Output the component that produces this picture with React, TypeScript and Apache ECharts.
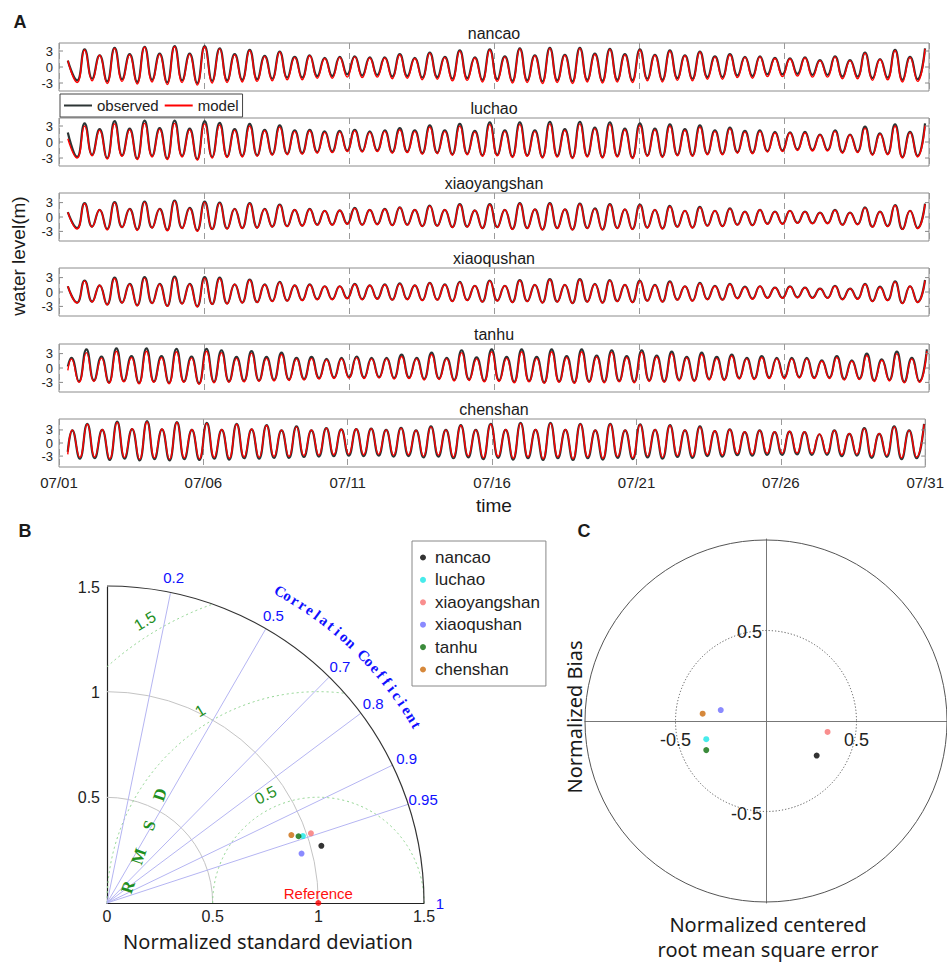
import React, { useEffect, useRef } from "react";
import * as echarts from "echarts";

// ---------------- Panel A data ----------------
const STATIONS = ["nancao", "luchao", "xiaoyangshan", "xiaoqushan", "tanhu", "chenshan"];
const DATE_LABELS = ["07/01", "07/06", "07/11", "07/16", "07/21", "07/26", "07/31"];
const Y_TICKS = [-3, 0, 3];
const Y_LIMITS = [4.5, 4.5, 5, 5, 5, 5.5];
const FIRST_HIGH_HOUR = [21.2, 21.2, 21.2, 21.2, 22.7, 23.5];
const RECORD_START_HOUR = 7.3;
const RECORD_END_HOUR = 720;
const TIDAL_HALF_PERIOD_H = 6.21;
const START_OBS = [1.2, 1.8, 1.0, 1.2, 0.3, -2.0];
const START_MOD = [1.2, 0.6, 1.0, 1.2, -0.5, -2.6];
const PRE_HIGH_OBS = [null, null, null, null, 2.1, 2.9];
const PRE_HIGH_MOD = [null, null, null, null, 1.9, 3.0];

const NANCAO_OBS_HIGH = [3.3,2.2,3.6,2.4,3.8,2.5,3.9,2.5,3.9,3.5,2.4,3.2,2.1,2.9,1.9,2.2,1.7,1.9,2.0,1.8,1.8,2.4,1.7,2.7,1.9,3.1,1.8,3.3,2.0,3.5,2.2,3.6,2.3,3.6,2.5,3.4,2.4,3.3,2.3,3.1,2.2,2.9,2.0,2.4,1.9,2.0,1.7,1.6,1.8,1.3,2.0,1.3,2.7,1.5,3.2,1.9,3.5];
const NANCAO_OBS_LOW = [-2.5,-2.2,-2.7,-2.3,-2.8,-2.4,-2.9,-2.5,-3.0,-2.6,-2.5,-2.4,-2.3,-2.2,-2.0,-2.0,-1.7,-1.7,-1.4,-1.6,-1.5,-1.8,-1.7,-2.0,-1.9,-2.2,-2.1,-2.4,-2.3,-2.6,-2.5,-2.7,-2.5,-2.7,-2.4,-2.6,-2.4,-2.5,-2.2,-2.4,-2.1,-2.2,-1.9,-1.9,-1.6,-1.7,-1.4,-1.4,-1.3,-1.5,-1.5,-1.8,-1.8,-2.1,-2.0,-2.4,-2.3];
const NANCAO_MOD_HIGH = [3.2,2.2,3.5,2.3,3.7,2.4,3.8,2.4,3.8,3.4,2.3,3.1,2.0,2.8,1.8,2.1,1.6,1.8,1.9,1.7,1.7,2.3,1.6,2.6,1.8,3.0,1.7,3.2,1.9,3.4,2.1,3.5,2.2,3.5,2.4,3.3,2.3,3.2,2.2,3.0,2.1,2.8,1.9,2.3,1.8,1.9,1.6,1.5,1.7,1.2,1.9,1.2,2.6,1.4,3.1,1.8,3.4];
const NANCAO_MOD_LOW = [-2.9,-2.6,-3.1,-2.7,-3.2,-2.8,-3.3,-2.9,-3.4,-3.0,-2.9,-2.8,-2.7,-2.6,-2.4,-2.4,-2.1,-2.1,-1.9,-2.0,-1.9,-2.2,-2.1,-2.4,-2.3,-2.6,-2.5,-2.8,-2.7,-3.0,-2.9,-3.1,-2.9,-3.1,-2.8,-3.0,-2.8,-2.9,-2.6,-2.8,-2.5,-2.6,-2.3,-2.3,-2.0,-2.1,-1.8,-1.8,-1.7,-1.9,-1.9,-2.2,-2.2,-2.5,-2.4,-2.8,-2.7];

const LUCHAO_OBS_HIGH = [3.5,2.4,3.9,2.5,4.0,2.6,4.0,2.5,3.9,3.6,2.4,3.4,2.3,3.1,2.2,2.3,2.0,2.1,2.3,2.0,2.2,2.6,2.2,3.1,2.2,3.4,2.1,3.7,2.2,3.7,2.2,3.8,2.4,3.8,2.7,3.7,2.5,3.5,2.5,3.3,2.4,3.1,2.2,2.7,2.1,2.2,1.9,1.8,1.9,1.4,2.2,1.4,2.9,1.6,3.3,1.9,3.5];
const LUCHAO_OBS_LOW = [-2.8,-2.4,-3.0,-2.5,-3.1,-2.6,-3.1,-2.6,-3.2,-2.8,-2.7,-2.6,-2.5,-2.3,-2.2,-2.1,-1.9,-1.8,-1.6,-1.7,-1.6,-1.9,-1.8,-2.1,-2.0,-2.3,-2.2,-2.5,-2.4,-2.7,-2.5,-2.8,-2.6,-2.9,-2.6,-2.8,-2.6,-2.9,-2.5,-2.7,-2.4,-2.5,-2.2,-2.2,-1.9,-2.0,-1.7,-1.6,-1.4,-1.5,-1.5,-1.9,-1.8,-2.3,-2.2,-2.8,-2.6];
const LUCHAO_MOD_HIGH = [3.0,2.2,3.4,2.3,3.5,2.4,3.5,2.3,3.4,3.2,2.2,3.0,2.1,2.8,2.0,2.1,1.8,1.9,2.1,1.8,2.0,2.3,2.0,2.8,2.0,3.0,1.9,3.3,2.0,3.3,2.0,3.4,2.2,3.4,2.5,3.3,2.3,3.1,2.3,3.0,2.2,2.8,2.0,2.5,1.9,2.0,1.7,1.7,1.7,1.3,2.0,1.3,2.6,1.5,3.0,1.8,3.1];
const LUCHAO_MOD_LOW = [-3.0,-2.6,-3.2,-2.7,-3.3,-2.8,-3.3,-2.8,-3.4,-3.0,-2.9,-2.8,-2.7,-2.5,-2.4,-2.3,-2.1,-2.0,-1.8,-1.9,-1.8,-2.1,-2.0,-2.3,-2.2,-2.5,-2.4,-2.7,-2.6,-2.9,-2.7,-3.0,-2.8,-3.1,-2.8,-3.0,-2.8,-3.1,-2.7,-2.9,-2.6,-2.7,-2.4,-2.4,-2.1,-2.2,-1.9,-1.8,-1.6,-1.7,-1.7,-2.1,-2.0,-2.5,-2.4,-3.0,-2.8];

const XIAOYANGSHAN_OBS_HIGH = [2.9,1.5,3.1,1.7,3.2,1.7,3.4,1.9,3.2,3.0,1.7,2.9,1.7,2.6,1.5,1.7,1.3,1.4,1.9,1.5,1.7,2.0,1.5,2.4,1.5,2.7,1.4,2.7,1.5,2.9,1.6,2.9,1.6,2.8,1.8,2.7,1.6,2.6,1.5,2.3,1.3,2.1,1.3,1.8,1.1,1.5,1.1,1.3,1.1,0.9,1.5,0.9,2.0,1.1,2.5,1.3,2.8];
const XIAOYANGSHAN_OBS_LOW = [-2.3,-2.0,-2.5,-2.1,-2.6,-2.2,-2.7,-2.3,-2.8,-2.5,-2.4,-2.3,-2.2,-2.0,-1.9,-1.8,-1.6,-1.6,-1.4,-1.6,-1.5,-1.7,-1.6,-1.9,-1.8,-2.1,-2.0,-2.3,-2.1,-2.5,-2.3,-2.6,-2.3,-2.6,-2.3,-2.6,-2.3,-2.5,-2.2,-2.4,-2.0,-2.2,-1.8,-1.9,-1.6,-1.7,-1.4,-1.4,-1.2,-1.3,-1.3,-1.6,-1.5,-2.0,-1.9,-2.5,-2.3];
const XIAOYANGSHAN_MOD_HIGH = [2.8,1.5,3.0,1.7,3.1,1.7,3.3,1.8,3.1,2.9,1.7,2.8,1.6,2.5,1.5,1.6,1.3,1.4,1.8,1.5,1.6,2.0,1.5,2.3,1.5,2.6,1.4,2.6,1.5,2.8,1.6,2.8,1.6,2.7,1.7,2.6,1.6,2.5,1.5,2.2,1.3,2.0,1.3,1.7,1.1,1.5,1.1,1.3,1.1,0.9,1.4,0.9,1.9,1.1,2.4,1.3,2.7];
const XIAOYANGSHAN_MOD_LOW = [-2.5,-2.1,-2.7,-2.2,-2.8,-2.3,-2.9,-2.4,-3.0,-2.6,-2.5,-2.4,-2.3,-2.1,-2.0,-1.9,-1.7,-1.7,-1.5,-1.7,-1.6,-1.8,-1.7,-2.0,-1.9,-2.2,-2.1,-2.4,-2.2,-2.6,-2.4,-2.7,-2.4,-2.7,-2.4,-2.7,-2.4,-2.6,-2.3,-2.5,-2.1,-2.3,-1.9,-2.0,-1.7,-1.8,-1.5,-1.5,-1.3,-1.4,-1.4,-1.7,-1.6,-2.1,-2.0,-2.6,-2.4];

const XIAOQUSHAN_OBS_HIGH = [2.4,1.4,3.0,1.7,3.1,1.7,3.2,1.7,3.1,3.0,1.6,2.6,1.6,2.1,1.4,1.6,1.2,1.2,1.7,1.4,1.6,1.8,1.4,1.9,1.6,2.1,1.3,2.4,1.3,2.5,1.5,2.7,1.5,2.7,1.7,2.5,1.5,2.4,1.5,2.2,1.2,1.9,1.3,1.7,1.1,1.2,0.9,1.2,0.9,0.7,1.3,0.7,1.7,1.1,2.2,1.2,2.5];
const XIAOQUSHAN_OBS_LOW = [-2.2,-2.0,-2.6,-2.2,-2.8,-2.3,-2.9,-2.4,-3.0,-2.5,-2.4,-2.2,-2.1,-1.9,-1.8,-1.7,-1.5,-1.5,-1.3,-1.5,-1.4,-1.6,-1.5,-1.7,-1.6,-1.9,-1.7,-2.0,-1.8,-2.1,-1.9,-2.2,-2.0,-2.3,-2.0,-2.2,-1.9,-2.1,-1.8,-2.0,-1.6,-1.8,-1.5,-1.6,-1.3,-1.4,-1.2,-1.2,-1.1,-1.2,-1.2,-1.5,-1.4,-1.9,-1.7,-2.3,-2.1];
const XIAOQUSHAN_MOD_HIGH = [2.3,1.4,2.8,1.6,2.9,1.6,3.0,1.6,2.9,2.8,1.6,2.5,1.5,2.0,1.4,1.5,1.2,1.2,1.6,1.4,1.5,1.7,1.4,1.9,1.5,2.0,1.3,2.3,1.3,2.4,1.5,2.6,1.5,2.6,1.6,2.4,1.5,2.3,1.4,2.1,1.2,1.8,1.2,1.6,1.0,1.2,0.9,1.1,0.9,0.7,1.2,0.7,1.6,1.0,2.1,1.2,2.4];
const XIAOQUSHAN_MOD_LOW = [-2.3,-2.1,-2.7,-2.3,-2.9,-2.4,-3.0,-2.5,-3.1,-2.6,-2.5,-2.3,-2.2,-2.0,-1.9,-1.8,-1.6,-1.6,-1.4,-1.6,-1.5,-1.7,-1.6,-1.8,-1.7,-2.0,-1.8,-2.1,-1.9,-2.2,-2.0,-2.3,-2.1,-2.4,-2.1,-2.3,-2.0,-2.2,-1.9,-2.1,-1.7,-1.9,-1.6,-1.7,-1.4,-1.5,-1.3,-1.3,-1.2,-1.3,-1.3,-1.6,-1.5,-2.0,-1.8,-2.4,-2.2];

const TANHU_OBS_HIGH = [3.9,2.4,4.1,2.5,4.1,2.5,4.0,2.4,4.0,3.7,2.3,3.5,2.3,3.2,2.1,2.3,1.9,2.1,2.4,2.1,2.1,2.8,2.1,3.2,2.1,3.7,2.2,3.9,2.3,3.9,2.3,3.9,2.5,3.9,2.6,3.7,2.5,3.7,2.6,3.4,2.3,3.2,2.3,2.8,2.1,2.5,2.1,2.1,2.1,1.6,2.5,1.6,3.0,1.8,3.4,2.1,3.9];
const TANHU_OBS_LOW = [-2.8,-2.6,-3.0,-2.7,-3.1,-2.8,-3.1,-2.8,-3.2,-2.9,-2.8,-2.7,-2.6,-2.5,-2.4,-2.3,-2.1,-2.0,-1.9,-2.0,-1.9,-2.1,-2.0,-2.3,-2.2,-2.5,-2.4,-2.7,-2.6,-2.9,-2.7,-3.0,-2.8,-3.0,-2.8,-2.9,-2.7,-2.9,-2.6,-2.8,-2.5,-2.6,-2.3,-2.4,-2.1,-2.2,-2.0,-2.0,-1.9,-2.0,-2.0,-2.3,-2.2,-2.6,-2.5,-2.9,-2.8];
const TANHU_MOD_HIGH = [3.2,2.1,3.5,2.2,3.5,2.2,3.4,2.1,3.5,3.2,2.0,3.1,2.0,2.8,1.9,2.0,1.7,1.9,2.1,1.9,1.9,2.4,1.9,2.8,1.9,3.2,1.9,3.4,2.0,3.4,2.0,3.4,2.2,3.4,2.3,3.3,2.2,3.3,2.3,3.0,2.1,2.8,2.0,2.5,1.9,2.2,1.9,1.9,1.9,1.4,2.2,1.4,2.6,1.6,3.0,1.9,3.5];
const TANHU_MOD_LOW = [-3.0,-2.8,-3.2,-2.9,-3.3,-3.0,-3.3,-3.0,-3.4,-3.1,-3.0,-2.9,-2.8,-2.7,-2.6,-2.5,-2.3,-2.2,-2.1,-2.2,-2.1,-2.3,-2.2,-2.5,-2.4,-2.7,-2.6,-2.9,-2.8,-3.1,-2.9,-3.2,-3.0,-3.2,-3.0,-3.1,-2.9,-3.1,-2.8,-3.0,-2.7,-2.8,-2.5,-2.6,-2.3,-2.4,-2.2,-2.2,-2.1,-2.2,-2.2,-2.5,-2.4,-2.8,-2.7,-3.1,-3.0];

const CHENSHAN_OBS_HIGH = [4.4,3.0,4.9,3.2,5.0,3.1,4.8,3.0,4.6,3.0,4.4,3.1,4.1,2.9,3.8,2.9,3.4,3.1,3.2,3.3,3.0,3.5,2.9,3.8,3.0,4.1,3.0,4.4,3.0,4.6,3.0,4.6,3.0,4.4,2.9,4.4,2.9,4.3,3.0,4.1,2.9,3.8,2.7,3.1,2.5,2.9,2.5,2.6,2.5,2.0,2.9,2.1,3.4,2.1,3.8,2.9,4.4];
const CHENSHAN_OBS_LOW = [-3.6,-3.5,-3.9,-3.6,-4.0,-3.7,-4.0,-3.7,-3.9,-3.6,-3.8,-3.5,-3.6,-3.4,-3.4,-3.2,-3.1,-3.0,-2.9,-3.0,-2.9,-3.1,-3.0,-3.3,-3.1,-3.5,-3.3,-3.7,-3.4,-3.8,-3.5,-3.9,-3.5,-3.9,-3.5,-3.8,-3.4,-3.7,-3.3,-3.6,-3.2,-3.4,-3.0,-3.1,-2.8,-2.9,-2.7,-2.7,-2.6,-2.7,-2.7,-3.0,-2.9,-3.4,-3.2,-3.7,-3.5];
const CHENSHAN_MOD_HIGH = [4.3,3.1,4.7,3.3,4.8,3.2,4.7,3.1,4.5,3.1,4.3,3.2,4.0,3.0,3.7,3.0,3.4,3.1,3.2,3.3,3.0,3.4,2.9,3.7,3.0,4.0,3.0,4.3,3.1,4.5,3.1,4.5,3.1,4.3,3.0,4.3,3.0,4.2,3.1,4.0,3.0,3.7,2.8,3.1,2.6,2.9,2.6,2.7,2.6,2.1,2.9,2.2,3.3,2.2,3.7,2.9,4.3];
const CHENSHAN_MOD_LOW = [-3.3,-3.2,-3.6,-3.3,-3.7,-3.4,-3.7,-3.4,-3.6,-3.3,-3.5,-3.2,-3.3,-3.1,-3.1,-2.9,-2.8,-2.7,-2.6,-2.7,-2.6,-2.8,-2.7,-3.0,-2.8,-3.2,-3.0,-3.4,-3.1,-3.5,-3.2,-3.6,-3.2,-3.6,-3.2,-3.5,-3.1,-3.4,-3.0,-3.3,-2.9,-3.1,-2.7,-2.8,-2.5,-2.6,-2.4,-2.4,-2.3,-2.4,-2.4,-2.7,-2.6,-3.1,-2.9,-3.4,-3.2];

const OBS_HIGH = [NANCAO_OBS_HIGH, LUCHAO_OBS_HIGH, XIAOYANGSHAN_OBS_HIGH, XIAOQUSHAN_OBS_HIGH, TANHU_OBS_HIGH, CHENSHAN_OBS_HIGH];
const OBS_LOW = [NANCAO_OBS_LOW, LUCHAO_OBS_LOW, XIAOYANGSHAN_OBS_LOW, XIAOQUSHAN_OBS_LOW, TANHU_OBS_LOW, CHENSHAN_OBS_LOW];
const MOD_HIGH = [NANCAO_MOD_HIGH, LUCHAO_MOD_HIGH, XIAOYANGSHAN_MOD_HIGH, XIAOQUSHAN_MOD_HIGH, TANHU_MOD_HIGH, CHENSHAN_MOD_HIGH];
const MOD_LOW = [NANCAO_MOD_LOW, LUCHAO_MOD_LOW, XIAOYANGSHAN_MOD_LOW, XIAOQUSHAN_MOD_LOW, TANHU_MOD_LOW, CHENSHAN_MOD_LOW];

// ---------------- Panel B / C data ----------------
const STATION_COLORS = ["#000000", "#19e6e6", "#f77272", "#6d6dff", "#0a6e0a", "#cc6a0a"];
const NORM_STD = [1.05, 0.98, 1.02, 0.95, 0.96, 0.93];
const CORRELATION = [0.966, 0.946, 0.946, 0.969, 0.944, 0.938];
const REFERENCE_STD = 1;
const CORR_RAYS = [0.2, 0.5, 0.7, 0.8, 0.9, 0.95];
const CORR_LABELS = [0.2, 0.5, 0.7, 0.8, 0.9, 0.95, 1];
const STD_ARCS = [0.5, 1.0];
const RMSD_ARCS = [0.5, 1.0, 1.5];
const MAX_STD = 1.5;
const CRMSE_SIGNED = [0.28, -0.33, 0.34, -0.25, -0.33, -0.35];
const NORM_BIAS = [-0.19, -0.10, -0.06, 0.06, -0.16, 0.04];
const TARGET_TICKS = [-0.5, 0.5];

const SANS = '"Liberation Sans", Arial, sans-serif';
const NOTO = '"Noto Sans", "Liberation Sans", sans-serif';
const SERIF = '"Liberation Serif", "DejaVu Serif", serif';

const GRID_TOPS = [43, 118, 193, 268, 344, 419];
const GRID_LEFT = 59;
const GRID_W = 870;
const GRID_H = 48;

function buildTide(i: number, highs: number[], lows: number[], start: number, pre: number | null) {
  const t0 = FIRST_HIGH_HOUR[i];
  const pts: number[][] = [[RECORD_START_HOUR, start]];
  if (pre !== null && pre !== undefined) pts.push([t0 - 2 * TIDAL_HALF_PERIOD_H, pre]);
  const n = Math.min(highs.length, lows.length);
  for (let k = 0; k < n; k++) {
    pts.push([t0 + (2 * k - 1) * TIDAL_HALF_PERIOD_H, lows[k]]);
    pts.push([t0 + 2 * k * TIDAL_HALF_PERIOD_H, highs[k]]);
  }
  return pts;
}

function tideAxisLabels(params: any, api: any) {
  if (params.dataIndex !== 0) return null;
  const ch: any[] = [];
  Y_TICKS.forEach((v) => {
    const l = api.coord([0, v]);
    const r = api.coord([RECORD_END_HOUR, v]);
    ch.push({ type: "text", x: l[0] - 6, y: l[1], style: { text: String(v), fill: "#222", font: "13px " + SANS, lineHeight: 12, align: "right", verticalAlign: "middle" } });
    ch.push({ type: "line", shape: { x1: l[0], y1: l[1], x2: l[0] + 4, y2: l[1] }, style: { stroke: "#888", lineWidth: 1 } });
    ch.push({ type: "line", shape: { x1: r[0] - 4, y1: r[1], x2: r[0], y2: r[1] }, style: { stroke: "#888", lineWidth: 1 } });
  });
  return { type: "group", children: ch };
}

function taylorGuides(params: any, api: any) {
  if (params.dataIndex !== 0) return null;
  const o = api.coord([0, 0]);
  const u = api.size([1, 1])[0];
  const P = (x: number, y: number) => api.coord([x, y]);
  const ch: any[] = [];
  STD_ARCS.forEach((r) => {
    ch.push({ type: "arc", shape: { cx: o[0], cy: o[1], r: r * u, startAngle: -Math.PI / 2, endAngle: 0, clockwise: true }, style: { stroke: "#c4c4c4", fill: null, lineWidth: 1 } });
  });
  const c1 = P(REFERENCE_STD, 0);
  RMSD_ARCS.forEach((rho) => {
    const cs = (MAX_STD * MAX_STD - REFERENCE_STD * REFERENCE_STD - rho * rho) / (2 * rho * REFERENCE_STD);
    const th1 = cs >= 1 ? 0 : Math.acos(Math.max(-1, cs));
    const ce = -REFERENCE_STD / rho;
    const th2 = ce <= -1 ? Math.PI : Math.acos(ce);
    ch.push({ type: "arc", shape: { cx: c1[0], cy: c1[1], r: rho * u, startAngle: -th2, endAngle: -th1, clockwise: true }, style: { stroke: "#8ed48e", fill: null, lineWidth: 1, lineDash: [2, 3] } });
  });
  CORR_RAYS.forEach((R) => {
    const p = P(MAX_STD * R, MAX_STD * Math.sqrt(1 - R * R));
    ch.push({ type: "line", shape: { x1: o[0], y1: o[1], x2: p[0], y2: p[1] }, style: { stroke: "#b5b5f2", lineWidth: 1 } });
  });
  ch.push({ type: "arc", shape: { cx: o[0], cy: o[1], r: MAX_STD * u, startAngle: -Math.PI / 2, endAngle: 0, clockwise: true }, style: { stroke: "#333", fill: null, lineWidth: 1.2 } });
  CORR_LABELS.forEach((R) => {
    const rr = MAX_STD * 1.05;
    const p = P(rr * R, rr * Math.sqrt(1 - R * R));
    ch.push({ type: "text", x: p[0], y: p[1], style: { text: String(R), fill: "#1010ff", font: "15px " + SANS, align: "center", verticalAlign: "middle" } });
  });
  const title = "Correlation Coefficient";
  const a0 = 61, a1 = 30;
  for (let j = 0; j < title.length; j++) {
    const phi = ((a0 - (j * (a0 - a1)) / (title.length - 1)) * Math.PI) / 180;
    const rr = 1.69;
    const p = P(rr * Math.cos(phi), rr * Math.sin(phi));
    ch.push({ type: "text", x: p[0], y: p[1], rotation: phi - Math.PI / 2, style: { text: title[j], fill: "#1010ff", font: "bold 15px " + SERIF, align: "center", verticalAlign: "middle" } });
  }
  const rmsdLabelAngles = [116, 121.5, 121.5];
  RMSD_ARCS.forEach((rho, j) => {
    const th = (rmsdLabelAngles[j] * Math.PI) / 180;
    const p = P(REFERENCE_STD + (rho + 0.07) * Math.cos(th), (rho + 0.07) * Math.sin(th));
    ch.push({ type: "text", x: p[0], y: p[1], rotation: th - Math.PI / 2, style: { text: String(rho), fill: "#1f8f1f", font: "16px " + SANS, align: "center", verticalAlign: "middle" } });
  });
  const rmsd = "RMSD";
  const dir = (71 * Math.PI) / 180;
  for (let j = 0; j < rmsd.length; j++) {
    const d = j * 0.155;
    const p = P(0.1 + d * Math.cos(dir), 0.075 + d * Math.sin(dir));
    ch.push({ type: "text", x: p[0], y: p[1], rotation: dir, style: { text: rmsd[j], fill: "#1f8f1f", font: "bold 17px " + SERIF, align: "center", verticalAlign: "middle" } });
  }
  ch.push({ type: "text", x: c1[0], y: c1[1] - 10, style: { text: "Reference", fill: "#ff1010", font: "15px " + SANS, align: "center", verticalAlign: "middle" } });
  return { type: "group", children: ch };
}

function targetGuides(params: any, api: any) {
  if (params.dataIndex !== 0) return null;
  const o = api.coord([0, 0]);
  const u = api.size([1, 1])[0];
  const ch: any[] = [
    { type: "circle", shape: { cx: o[0], cy: o[1], r: u }, style: { stroke: "#555", fill: null, lineWidth: 1 } },
    { type: "circle", shape: { cx: o[0], cy: o[1], r: u * 0.5 }, style: { stroke: "#555", fill: null, lineWidth: 1, lineDash: [1.2, 2] } },
  ];
  TARGET_TICKS.forEach((v) => {
    const px = api.coord([v, 0]);
    ch.push({ type: "text", x: px[0], y: px[1] + 19, style: { text: String(v), fill: "#222", font: "18px " + SANS, align: "center", verticalAlign: "middle" } });
    const py = api.coord([0, v]);
    ch.push({ type: "text", x: py[0] - 4, y: py[1] + 2, style: { text: String(v), fill: "#222", font: "18px " + SANS, align: "right", verticalAlign: "middle" } });
  });
  return { type: "group", children: ch };
}

export default function App() {
  const ref = useRef<HTMLDivElement>(null);
  useEffect(() => {
    if (!ref.current) return;
    const chart = echarts.init(ref.current, null, { renderer: "svg" });

    const grid: any[] = GRID_TOPS.map((t) => ({ left: GRID_LEFT, top: t, width: GRID_W, height: GRID_H, show: true, borderColor: "#8c8c8c", borderWidth: 1, backgroundColor: "transparent" }));
    grid.push({ left: 107, top: 587, width: 317, height: 316 });
    grid.push({ left: 585, top: 539, width: 364, height: 364 });

    const xAxis: any[] = STATIONS.map((_, i) => ({
      type: "value", gridIndex: i, min: 0, max: RECORD_END_HOUR, interval: 120,
      axisLine: { show: false }, axisTick: { show: false },
      splitLine: { show: true, lineStyle: { type: [6, 4], color: "#9a9a9a", width: 1 } },
      axisLabel: { show: i === STATIONS.length - 1, formatter: (v: number) => DATE_LABELS[Math.round(v / 120)], fontSize: 15, fontFamily: SANS, color: "#222", margin: 8, showMinLabel: true, showMaxLabel: true },
    }));
    xAxis.push({
      type: "value", gridIndex: 6, min: 0, max: MAX_STD, interval: 0.5,
      axisLine: { show: true, lineStyle: { color: "#222", width: 1.2 } }, axisTick: { show: false }, splitLine: { show: false },
      axisLabel: { fontSize: 16, fontFamily: SANS, color: "#222", margin: 5, formatter: (v: number) => String(v) },
    });
    xAxis.push({
      type: "value", gridIndex: 7, min: -1, max: 1,
      axisLine: { show: true, onZero: true, lineStyle: { color: "#777", width: 1 } }, axisTick: { show: false }, splitLine: { show: false },
      axisLabel: { show: false },
    });

    const yAxis: any[] = STATIONS.map((_, i) => ({
      type: "value", gridIndex: i, min: -Y_LIMITS[i], max: Y_LIMITS[i],
      axisLine: { show: false }, splitLine: { show: false }, axisTick: { show: false }, axisLabel: { show: false },
    }));
    yAxis.push({
      type: "value", gridIndex: 6, min: 0, max: MAX_STD, interval: 0.5,
      axisLine: { show: true, lineStyle: { color: "#222", width: 1.2 } }, axisTick: { show: false }, splitLine: { show: false },
      axisLabel: { fontSize: 16, fontFamily: SANS, color: "#222", margin: 7, formatter: (v: number) => (v === 0 ? "" : String(v)) },
    });
    yAxis.push({
      type: "value", gridIndex: 7, min: -1, max: 1,
      axisLine: { show: true, onZero: true, lineStyle: { color: "#777", width: 1 } }, axisTick: { show: false }, splitLine: { show: false },
      axisLabel: { show: false },
    });

    const series: any[] = [];
    STATIONS.forEach((_, i) => {
      series.push({
        type: "line", name: "observed", xAxisIndex: i, yAxisIndex: i, symbol: "none", smooth: 0.5,
        data: buildTide(i, OBS_HIGH[i], OBS_LOW[i], START_OBS[i], PRE_HIGH_OBS[i]),
        lineStyle: { color: "#2d3535", width: 2.2 }, itemStyle: { color: "#2d3535" }, z: 2,
      });
      series.push({
        type: "line", name: "model", xAxisIndex: i, yAxisIndex: i, symbol: "none", smooth: 0.5,
        data: buildTide(i, MOD_HIGH[i], MOD_LOW[i], START_MOD[i], PRE_HIGH_MOD[i]),
        lineStyle: { color: "#ff0000", width: 1.4 }, itemStyle: { color: "#ff0000" }, z: 3,
      });
      series.push({ type: "custom", xAxisIndex: i, yAxisIndex: i, renderItem: tideAxisLabels, data: [[0, 0]], clip: false, silent: true, z: 4 });
    });
    series.push({ type: "custom", xAxisIndex: 6, yAxisIndex: 6, renderItem: taylorGuides, data: [[0, 0]], clip: false, silent: true, z: 1 });
    series.push({ type: "custom", xAxisIndex: 7, yAxisIndex: 7, renderItem: targetGuides, data: [[0, 0]], clip: false, silent: true, z: 1 });
    series.push({ type: "scatter", name: "Reference", xAxisIndex: 6, yAxisIndex: 6, data: [[REFERENCE_STD, 0]], symbolSize: 6, itemStyle: { color: "#ff0000" }, clip: false, z: 6 });
    STATIONS.forEach((name, i) => {
      series.push({
        type: "scatter", name, xAxisIndex: 6, yAxisIndex: 6, symbolSize: 6, z: 6,
        data: [[NORM_STD[i] * CORRELATION[i], NORM_STD[i] * Math.sqrt(1 - CORRELATION[i] * CORRELATION[i])]],
        itemStyle: { color: STATION_COLORS[i] },
      });
      series.push({
        type: "scatter", name, xAxisIndex: 7, yAxisIndex: 7, symbolSize: 6, z: 6,
        data: [[CRMSE_SIGNED[i], NORM_BIAS[i]]], itemStyle: { color: STATION_COLORS[i] },
      });
    });

    const graphic: any[] = [];
    const txt = (x: number, y: number, text: string, font: string, extra: any = {}) => ({
      type: "text", x, y, rotation: extra.rotation || 0,
      style: { text, font, fill: extra.fill || "#1a1a1a", align: extra.align || "center", verticalAlign: extra.va || "middle", lineHeight: extra.lh },
    });
    graphic.push(txt(20, 22, "A", "bold 18px " + SANS));
    graphic.push(txt(25, 531, "B", "bold 18px " + SANS));
    graphic.push(txt(584, 531, "C", "bold 18px " + SANS));
    STATIONS.forEach((name, i) => graphic.push(txt(GRID_LEFT + GRID_W / 2, GRID_TOPS[i] - 2, name, "16px " + SANS, { va: "bottom" })));
    graphic.push(txt(18, 256, "water level(m)", "19px " + SANS, { rotation: Math.PI / 2 }));
    graphic.push(txt(494, 505, "time", "19px " + SANS));
    graphic.push(txt(268, 941, "Normalized standard deviation", "20px " + NOTO));
    graphic.push(txt(574, 717, "Normalized Bias", "20px " + NOTO, { rotation: Math.PI / 2 }));
    graphic.push(txt(768, 924, "Normalized centered", "20px " + NOTO, { lh: 22 }));
    graphic.push(txt(768, 949, "root mean square error", "20px " + NOTO, { lh: 22 }));

    chart.setOption({
      animation: false,
      backgroundColor: "#ffffff",
      grid, xAxis, yAxis, series, graphic,
      legend: [
        {
          data: ["observed", "model"], left: 60, top: 94, orient: "horizontal", icon: "rect",
          itemWidth: 28, itemHeight: 2, itemGap: 6, padding: [4, 4, 4, 4],
          borderColor: "#444", borderWidth: 1, backgroundColor: "#fff",
          textStyle: { fontSize: 15, fontFamily: SANS, color: "#222" },
        },
        {
          data: STATIONS, left: 412, top: 541, orient: "vertical", icon: "circle",
          itemWidth: 14, itemHeight: 6, itemGap: 5.4, padding: [8, 6, 8, 8],
          borderColor: "#888", borderWidth: 1,
          textStyle: { fontSize: 17, lineHeight: 16, fontFamily: SANS, color: "#222" },
        },
      ],
    });
    return () => chart.dispose();
  }, []);
  return <div ref={ref} style={{ position: "absolute", left: 0, top: 0, width: 947, height: 962, background: "#fff" }} />;
}
